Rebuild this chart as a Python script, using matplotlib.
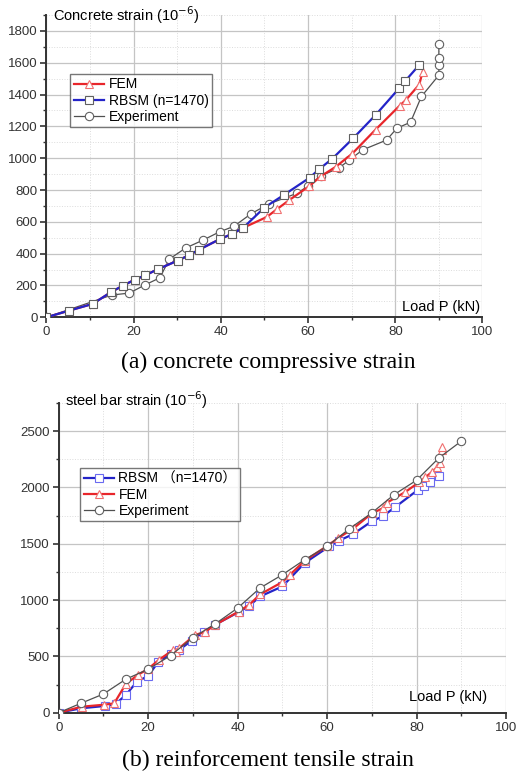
import numpy as np
import matplotlib
matplotlib.use("Agg")
import matplotlib.pyplot as plt
from matplotlib.ticker import MultipleLocator

plt.rcParams['font.family'] = ['Liberation Sans', 'Noto Sans CJK SC']

# (a) concrete compressive strain
a_exp_x = [0, 15, 19, 22.5, 26, 28.2, 31.9, 35.9, 39.7, 43, 47, 51, 57.5, 60, 63, 67, 69.4, 72.5, 78, 80.4, 83.5, 86, 90, 90, 90, 90]
a_exp_y = [0, 140, 152, 202, 248, 366, 435, 485, 537, 572, 652, 712, 780, 825, 890, 937, 987, 1052, 1114, 1189, 1226, 1388, 1522, 1584, 1633, 1720]
a_rbsm_x = [0, 5.2, 10.6, 14.9, 17.5, 20.2, 22.6, 25.6, 30.1, 32.6, 35, 39.9, 42.6, 45.1, 50, 54.5, 60.4, 62.5, 65.6, 70.3, 75.5, 80.9, 82.3, 85.4]
a_rbsm_y = [0, 42, 84, 160, 198, 236, 263, 303, 356, 389, 425, 493, 524, 562, 690, 770, 878, 930, 998, 1124, 1272, 1440, 1486, 1583]
a_fem_x = [0, 5.2, 10.6, 14.9, 17.5, 20.2, 22.6, 25.6, 30.1, 32.6, 35, 39.9, 42.6, 45.1, 50.5, 52.8, 55.6, 60.3, 62.9, 66.3, 70.1, 75.5, 81, 82.4, 85.5, 86.3]
a_fem_y = [0, 42, 84, 160, 198, 236, 263, 303, 356, 389, 425, 493, 524, 562, 630, 678, 735, 825, 886, 945, 1028, 1180, 1330, 1365, 1463, 1545]

# (b) reinforcement tensile strain
b_exp_x = [0, 5, 10, 15, 20, 25, 30, 35, 40, 45, 50, 55, 60, 65, 70, 75, 80, 85, 90]
b_exp_y = [0, 84, 166, 297, 386, 507, 667, 789, 929, 1107, 1225, 1359, 1477, 1634, 1774, 1937, 2064, 2262, 2411]
b_rbsm_x = [0, 5, 10.4, 12.7, 15, 17.5, 20, 22.3, 25, 27, 29.7, 32.5, 34.9, 40.2, 42.6, 45, 50, 55, 60.5, 62.7, 65.8, 70, 72.5, 75.2, 80.3, 81.6, 83.1, 85]
b_rbsm_y = [0, 39, 60, 77, 157, 276, 326, 454, 520, 560, 640, 720, 780, 893, 949, 1032, 1121, 1330, 1477, 1528, 1585, 1700, 1745, 1825, 1978, 2014, 2052, 2103]
b_fem_x = [0, 5.1, 10.2, 12.4, 15, 17.7, 20, 22.4, 25.6, 26.2, 27, 30.5, 32.6, 35, 40.2, 42.6, 45, 50, 51.7, 55, 60, 62.5, 66, 70, 72.6, 73.3, 77.5, 80.5, 82, 83.5, 84.6, 85.2, 85.6, 85.8]
b_fem_y = [0, 53, 71, 83, 255, 335, 390, 469, 558, 540, 575, 691, 715, 780, 898, 958, 1050, 1160, 1225, 1350, 1480, 1551, 1640, 1770, 1818, 1863, 1960, 2045, 2090, 2140, 2180, 2220, 2330, 2360]

RED = '#e8262b'
BLUE = '#2424c8'
GRAY = '#505050'


def style_axes(ax, ymax, ymajor, yminor):
    ax.set_xlim(0, 100)
    ax.set_ylim(0, ymax)
    ax.xaxis.set_major_locator(MultipleLocator(20))
    ax.xaxis.set_minor_locator(MultipleLocator(10))
    ax.yaxis.set_major_locator(MultipleLocator(ymajor))
    ax.yaxis.set_minor_locator(MultipleLocator(yminor))
    for s in ['top', 'right']:
        ax.spines[s].set_visible(False)
    for s in ['left', 'bottom']:
        ax.spines[s].set_linewidth(1.4)
        ax.spines[s].set_color('#333333')
    ax.tick_params(which='major', direction='out', length=4, width=1.2, labelsize=9.5, colors='#333333', pad=2.5)
    ax.tick_params(which='minor', direction='out', length=2.5, width=1.0, colors='#333333')
    ax.grid(which='major', color='#c4c4c4', lw=0.9)
    ax.grid(which='minor', color='#dcdcdc', lw=0.7, ls=':')
    ax.set_axisbelow(True)


fig = plt.figure(figsize=(5.16, 7.75), dpi=100)

# ---- (a)
ax1 = fig.add_axes([0.090, 0.5906, 0.845, 0.39])
style_axes(ax1, 1900, 200, 100)
ax1.plot(a_exp_x, a_exp_y, color=GRAY, lw=0.9, marker='o', ms=6, mfc='white', mec='#606060', mew=0.8, label='Experiment', zorder=2)
ax1.plot(a_fem_x, a_fem_y, color=RED, lw=1.6, marker='^', ms=6, mfc='white', mec='#f07070', mew=0.8, label='FEM', zorder=3)
ax1.plot(a_rbsm_x, a_rbsm_y, color=BLUE, lw=1.6, marker='s', ms=5.5, mfc='white', mec='#606060', mew=0.8, label='RBSM (n=1470)', zorder=4)
h, l = ax1.get_legend_handles_labels()
order = [1, 2, 0]
ax1.legend([h[i] for i in order], [l[i] for i in order], loc='upper left', bbox_to_anchor=(0.055, 0.805),
           fontsize=10, frameon=True, fancybox=False, edgecolor='#555555', borderpad=0.25,
           handlelength=2.2, handletextpad=0.3, labelspacing=0.15, borderaxespad=0)
ax1.text(0.015, 1.0, r'Concrete strain (10$^{-6}$)', transform=ax1.transAxes, fontsize=10.5, va='center', ha='left')
ax1.text(0.994, 0.035, 'Load P (kN)', transform=ax1.transAxes, fontsize=10.5, va='center', ha='right')
fig.text(0.52, 0.532, '(a) concrete compressive strain', family='Liberation Serif', fontsize=17, ha='center', va='center')

# ---- (b)
ax2 = fig.add_axes([0.1138, 0.0804, 0.8668, 0.3996])
style_axes(ax2, 2750, 500, 250)
ax2.plot(b_exp_x, b_exp_y, color=GRAY, lw=0.9, marker='o', ms=6, mfc='white', mec='#606060', mew=0.8, label='Experiment', zorder=4)
ax2.plot(b_rbsm_x, b_rbsm_y, color=BLUE, lw=1.6, marker='s', ms=5.5, mfc='white', mec='#6a6af0', mew=0.8, label='RBSM （n=1470）', zorder=2)
ax2.plot(b_fem_x, b_fem_y, color=RED, lw=1.6, marker='^', ms=6, mfc='white', mec='#f07070', mew=0.8, label='FEM', zorder=3)
h, l = ax2.get_legend_handles_labels()
order = [1, 2, 0]
ax2.legend([h[i] for i in order], [l[i] for i in order], loc='upper left', bbox_to_anchor=(0.048, 0.79),
           fontsize=10, frameon=True, fancybox=False, edgecolor='#555555', borderpad=0.25,
           handlelength=2.2, handletextpad=0.3, labelspacing=0.15, borderaxespad=0)
ax2.text(0.015, 1.01, r'steel bar strain (10$^{-6}$)', transform=ax2.transAxes, fontsize=10.5, va='center', ha='left')
ax2.text(0.958, 0.05, 'Load P (kN)', transform=ax2.transAxes, fontsize=10.5, va='center', ha='right')
fig.text(0.52, 0.0194, '(b) reinforcement tensile strain', family='Liberation Serif', fontsize=17, ha='center', va='center')

fig.savefig('out.png', dpi=100)
